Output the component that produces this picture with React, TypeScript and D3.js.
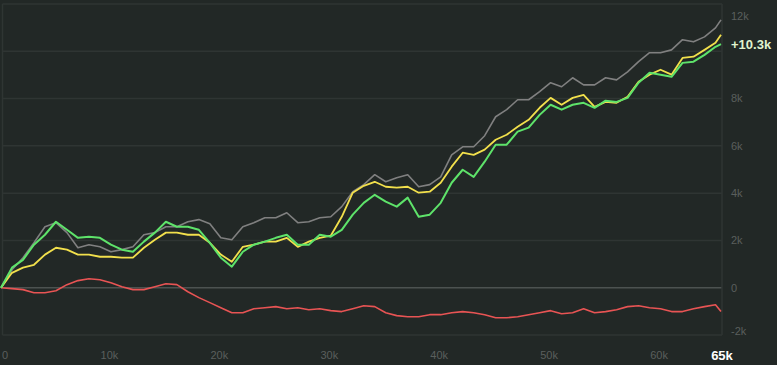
import React, { useEffect } from 'react';
import * as d3 from 'd3';

// hands played (x) — one sample every 1k, last point is the current position
const hands = [...d3.range(0, 66000, 1000), 65500];

// cumulative winnings
const totalWon = [0, 760, 1270, 1900, 2580, 2750, 2330, 1690, 1820, 1730, 1520, 1610, 1730, 2240, 2330, 2580, 2580, 2790, 2880, 2710, 2110, 2030, 2580, 2750, 2960, 2960, 3170, 2750, 2790, 2960, 3000, 3430, 4060, 4360, 4780, 4480, 4650, 4780, 4270, 4360, 4690, 5620, 5960, 5960, 6430, 7230, 7530, 7950, 7950, 8290, 8670, 8500, 8880, 8580, 8580, 8880, 8790, 9130, 9560, 9940, 9940, 10060, 10490, 10400, 10610, 10990, 11330];
const allInAdj = [0, 630, 850, 970, 1400, 1690, 1610, 1400, 1400, 1310, 1310, 1270, 1270, 1690, 2030, 2330, 2330, 2240, 2240, 1900, 1400, 1100, 1730, 1820, 1950, 1950, 2110, 1730, 1950, 2110, 2200, 3000, 4020, 4310, 4480, 4270, 4230, 4270, 4020, 4060, 4440, 5120, 5710, 5620, 5840, 6260, 6470, 6810, 7100, 7610, 8030, 7740, 8030, 8160, 7650, 7860, 7820, 8080, 8710, 9010, 9220, 9010, 9720, 9770, 10060, 10360, 10700];
const showdown = [0, 850, 1180, 1820, 2240, 2790, 2450, 2110, 2160, 2110, 1820, 1610, 1520, 1950, 2330, 2790, 2580, 2580, 2450, 1900, 1270, 890, 1520, 1820, 1950, 2110, 2240, 1820, 1820, 2240, 2160, 2450, 3090, 3590, 3930, 3640, 3430, 3810, 3000, 3090, 3590, 4440, 4990, 4690, 5330, 6050, 6050, 6600, 6770, 7310, 7740, 7530, 7740, 7820, 7610, 7910, 7860, 8030, 8670, 9090, 9010, 8920, 9510, 9560, 9850, 10190, 10300];
const nonShowdown = [0, -40, -80, -210, -210, -130, 130, 300, 380, 340, 210, 40, -80, -80, 40, 170, 130, -170, -420, -630, -850, -1060, -1060, -890, -850, -800, -890, -850, -930, -890, -970, -1010, -890, -760, -800, -1060, -1180, -1230, -1230, -1140, -1140, -1060, -1010, -1060, -1140, -1270, -1270, -1230, -1140, -1060, -970, -1100, -1060, -890, -1060, -1010, -930, -800, -760, -850, -890, -1010, -1010, -890, -800, -720, -1010];

const yTicks = [-2000, 0, 2000, 4000, 6000, 8000, 10000, 12000];
const xTicks = [0, 10000, 20000, 30000, 40000, 50000, 60000];

const series = [
  { name: 'total', values: totalWon, color: '#808080', width: 1.6 },
  { name: 'nonsd', values: nonShowdown, color: '#e85454', width: 1.6 },
  { name: 'allin', values: allInAdj, color: '#f2e04c', width: 1.8 },
  { name: 'sd', values: showdown, color: '#5ee36a', width: 2 },
];

const W = 777;
const H = 365;
const left = 2.5, right = 722, top = 4, bottom = 335;

const fmtK = (v: number) => (v === 0 ? '0' : `${v / 1000}k`);

export default function App() {
  useEffect(() => {
    document.body.style.margin = '0';
    document.body.style.background = '#222826';
  }, []);

  const x = d3.scaleLinear().domain([0, 65500]).range([1, 721]);
  const y = d3.scaleLinear().domain([-2000, 12000]).range([bottom, top]);

  const line = d3.line<number>()
    .x((_, i) => x(hands[i]))
    .y(d => y(d));

  const lastHand = 65000;
  const marker = showdown[showdown.length - 1];
  const markerY = y(marker);

  return (
    <svg width={W} height={H} style={{ display: 'block', background: '#222826' }}
      fontFamily="'Liberation Sans', Arial, sans-serif">
      {yTicks.map(t => (
        <line key={'g' + t} x1={left} x2={right} y1={y(t)} y2={y(t)}
          stroke={t === 0 ? '#4c5250' : '#2f3533'} strokeWidth={1.5} />
      ))}
      <line x1={left} x2={left} y1={top} y2={bottom} stroke="#2f3533" strokeWidth={1.5} />
      <line x1={right} x2={right} y1={top} y2={bottom} stroke="#2f3533" strokeWidth={1.5} />

      {series.map(s => (
        <path key={s.name} d={line(s.values) || ''} fill="none" stroke={s.color}
          strokeWidth={s.width} strokeLinejoin="round" />
      ))}

      {yTicks.filter(t => Math.abs(y(t) - markerY) > 12).map(t => (
        <text key={'y' + t} x={731} y={Math.min(Math.max(y(t), 16), 331)} dy="0.35em"
          fontSize={11} fill="#5a5f5d">{fmtK(t)}</text>
      ))}
      <text x={731} y={markerY} dy="0.35em" fontSize={13} fontWeight="bold" fill="#dff3cf">
        {`+${(marker / 1000).toFixed(1)}k`}
      </text>

      {xTicks.map(t => (
        <text key={'x' + t} x={t === 0 ? 5 : x(t) - 1.5} y={359} textAnchor="middle"
          fontSize={11} fill="#5a5f5d">{fmtK(t)}</text>
      ))}
      <text x={722} y={360} textAnchor="middle" fontSize={13} fontWeight="bold" fill="#ffffff">
        {fmtK(lastHand)}
      </text>
    </svg>
  );
}
